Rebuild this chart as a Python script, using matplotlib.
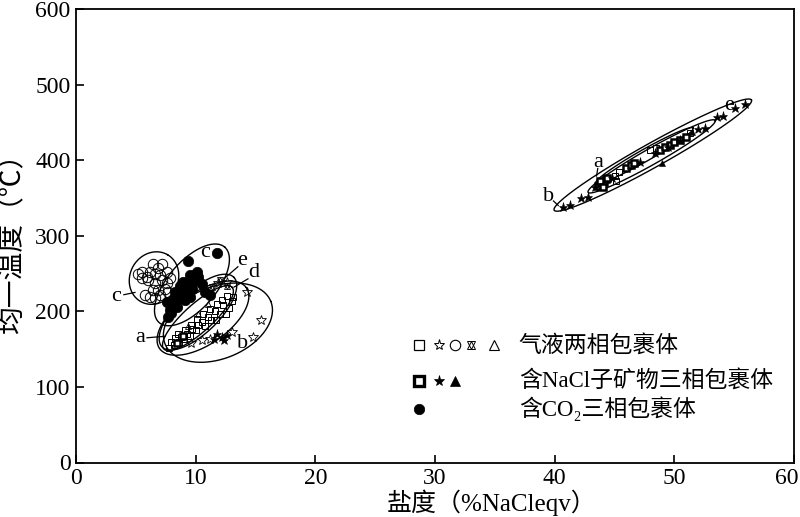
import numpy as np
import matplotlib
matplotlib.use("Agg")
import matplotlib.pyplot as plt
from matplotlib.transforms import ScaledTranslation

FONTS = ["Liberation Serif", "Noto Sans CJK SC", "DejaVu Sans"]
plt.rcParams["font.family"] = FONTS

# ---- data: (salinity wt% NaCleqv, homogenization T in C) ----
# vapour-liquid inclusions
vl_sq_x = [7.8, 7.9, 8.2, 8.3, 8.6, 8.5, 8.8, 9.0, 9.1, 9.3, 9.5, 9.6, 9.7, 10.0, 10.1, 10.2,
           10.5, 10.6, 10.8, 11.0, 11.2, 11.3, 11.6, 11.8, 12.0, 12.3, 12.6, 13.1, 12.8, 12.2,
           13.0, 12.5, 11.7, 45.0, 45.4, 45.1, 48.0, 48.5, 51.3]
vl_sq_y = [152, 160, 156, 165, 160, 170, 166, 163, 175, 170, 168, 182, 176, 175, 190, 182,
           186, 196, 180, 192, 203, 188, 200, 210, 196, 208, 220, 219, 205, 215,
           214, 196, 188, 379, 384, 373, 413, 416, 436]
vl_star_x = [14.3, 15.5, 14.8, 12.6, 11.9, 10.5, 11.2, 9.6, 13.0]
vl_star_y = [226, 188, 166, 239, 237, 162, 164, 158, 172]
vl_circ_x = [6.46, 7.16, 6.88, 6.18, 5.49, 5.20, 6.60, 7.02, 7.58, 5.49, 6.04, 6.60, 7.16,
             7.58, 7.85, 6.46, 6.88, 7.44, 7.71, 5.76, 6.18, 7.02, 6.60, 5.91]
vl_circ_y = [263, 263, 257, 252, 252, 250, 250, 248, 252, 244, 241, 237, 241,
             237, 244, 228, 228, 230, 226, 222, 219, 222, 217, 246]
vl_hex_x = [12.0, 12.6, 11.4]
vl_hex_y = [242, 233, 232]
vl_tri_x = [10.2, 11.0, 9.4]
vl_tri_y = [196, 210, 180]

# NaCl daughter-mineral bearing three-phase inclusions
na_sq_x = [8.4, 8.9, 43.6, 43.9, 44.1, 44.3, 43.8, 44.4, 44.0, 46.0, 46.4, 46.6,
           48.8, 49.2, 49.6, 50.0, 50.5, 51.0]
na_sq_y = [158, 168, 366, 370, 371, 375, 372, 376, 365, 390, 394, 396,
           413, 417, 420, 424, 427, 431]
na_star_x = [11.8, 12.2, 12.6, 12.4, 11.5, 40.7, 41.3, 42.2, 42.8, 43.4, 48.4, 52.0, 52.6,
             53.6, 54.1, 55.1, 55.9, 49.5, 47.1, 44.8, 50.5]
na_star_y = [170, 166, 169, 162, 164, 338, 341, 350, 351, 364, 409, 441, 442,
             457, 459, 469, 474, 417, 397, 376, 427]
na_tri_x = [49.0, 51.5]
na_tri_y = [396, 437]

# CO2-bearing three-phase inclusions
co2_x = [9.38, 10.08, 10.22, 9.52, 9.80, 8.96, 8.69, 9.25, 8.83, 8.27, 8.55, 8.00, 7.58,
         8.13, 7.85, 7.71, 10.78, 11.19, 11.75, 9.52, 9.11, 10.5, 9.7, 8.4, 7.9]
co2_y = [266, 252, 246, 248, 239, 239, 233, 233, 226, 226, 219, 215, 213,
         208, 202, 193, 226, 222, 277, 219, 215, 236, 229, 206, 198]

# grouping ellipses: centre (data), semi-axes (px), tilt (deg, screen)
ell_cx = [6.52, 9.69, 10.19, 10.61, 10.19, 11.86, 48.2, 48.1, 47.5]
ell_cy = [244, 235, 199, 191, 191, 185, 406.7, 405, 406]
ell_a = [27, 50, 50, 53, 46, 57, 113, 73, 56]
ell_b = [24, 24, 21, 26, 14, 36, 12, 8, 6]
ell_ang = [60, 49, 44, 35, 42, 22, 29.2, 29.5, 29.5]

# group letters
lab_txt = ["a", "b", "c", "c", "e", "d", "b", "a", "e"]
lab_x = [5.35, 13.95, 3.34, 10.78, 13.87, 14.87, 39.5, 43.6, 54.55]
lab_y = [166, 158, 220, 278, 267, 251, 352, 397, 472]
# leader lines  (x0, y0, x1, y1)
lead = [(5.93, 165, 7.44, 167), (4.0, 222, 4.93, 225), (13.53, 259, 12.36, 243),
        (14.37, 243, 13.2, 232), (39.9, 346, 40.3, 340), (43.6, 389, 43.5, 379)]

W, H, DPI = 8.0, 5.17, 100
fig = plt.figure(figsize=(W, H), dpi=DPI)
pos = [76 / 800, 1 - 462.5 / 517, 718 / 800, 453.5 / 517]
ax = fig.add_axes(pos)
ax.set_xlim(0, 60)
ax.set_ylim(0, 600)

sx = W * DPI * pos[2] / 60.0
sy = H * DPI * pos[3] / 600.0


def ring(cx, cy, a, b, ang):
    # ellipse shaped in screen pixels, mapped back into data units
    t = np.linspace(0, 2 * np.pi, 240)
    th = np.radians(ang)
    u = a * np.cos(t)
    v = b * np.sin(t)
    px = u * np.cos(th) - v * np.sin(th)
    py = u * np.sin(th) + v * np.cos(th)
    ax.plot(cx + px / sx, cy + py / sy, color="k", lw=1.0, zorder=2)


for i in range(len(ell_cx)):
    ring(ell_cx[i], ell_cy[i], ell_a[i], ell_b[i], ell_ang[i])

k = dict(ls="none", color="k", zorder=3)
ax.plot(vl_circ_x, vl_circ_y, marker="o", ms=7.5, mfc="none", mew=0.7, **k)
ax.plot(co2_x, co2_y, marker="o", ms=7.5, mfc="k", mew=0.5, **k)
ax.plot(vl_sq_x, vl_sq_y, marker="s", ms=4.5, mfc="none", mew=0.7, **k)
ax.plot(vl_star_x, vl_star_y, marker="*", ms=7, mfc="none", mew=0.6, **k)
ax.plot(vl_hex_x, vl_hex_y, marker="^", ms=5, mfc="none", mew=0.6, **k)
ax.plot(vl_hex_x, vl_hex_y, marker="v", ms=5, mfc="none", mew=0.6, **k)
ax.plot(vl_tri_x, vl_tri_y, marker="^", ms=5, mfc="none", mew=0.6, **k)
ax.plot(na_sq_x, na_sq_y, marker="s", ms=5, mfc="white", mew=1.8, **k)
ax.plot(na_star_x, na_star_y, marker="*", ms=6.5, mfc="k", mew=0.4, **k)
ax.plot(na_tri_x, na_tri_y, marker="^", ms=5, mfc="k", mew=0.4, **k)

for s, x, y in zip(lab_txt, lab_x, lab_y):
    ax.text(x, y, s, fontsize=16, ha="center", va="center", zorder=4)
for x0, y0, x1, y1 in lead:
    ax.plot([x0, x1], [y0, y1], color="k", lw=0.9, zorder=4)

# hand-made key
ky = [155, 108, 71]
kx = [28.7, 30.3, 31.7, 33.0, 34.9]
kk = dict(ls="none", color="k", clip_on=False)
ax.plot(kx[0], ky[0], marker="s", ms=6.5, mfc="none", mew=0.9, **kk)
ax.plot(kx[1], ky[0], marker="*", ms=8, mfc="none", mew=0.7, **kk)
ax.plot(kx[2], ky[0], marker="o", ms=7.5, mfc="none", mew=0.8, **kk)
ax.plot(kx[3], ky[0], marker="^", ms=6, mfc="none", mew=0.7, **kk)
ax.plot(kx[3], ky[0], marker="v", ms=6, mfc="none", mew=0.7, **kk)
ax.plot(kx[4], ky[0], marker="^", ms=6.5, mfc="none", mew=0.8, **kk)
ax.plot(kx[0], ky[1], marker="s", ms=6.5, mfc="white", mew=2.4, **kk)
ax.plot(kx[1], ky[1], marker="*", ms=8, mfc="k", mew=0.5, **kk)
ax.plot(kx[2], ky[1], marker="^", ms=6.5, mfc="k", mew=0.5, **kk)
ax.plot(kx[0], ky[2], marker="o", ms=7.5, mfc="k", mew=0.5, **kk)
key_txt = ["气液两相包裹体", "含NaCl子矿物三相包裹体", "含CO₂三相包裹体"]
for s, y in zip(key_txt, ky):
    ax.text(37.0, y, s, fontsize=16.5, ha="left", va="center")

ax.set_xticks(range(0, 61, 10))
ax.set_yticks(range(0, 601, 100))
ax.tick_params(direction="in", length=6, width=1.2, labelsize=17, pad=4)
for sp in ax.spines.values():
    sp.set_linewidth(1.3)

# last x tick label sits a bit left of its tick in the original
fig.canvas.draw()
last = ax.get_xticklabels()[-1]
last.set_transform(last.get_transform() + ScaledTranslation(-7 / DPI, 0, fig.dpi_scale_trans))

fig.text(492 / 800, 1 - 503 / 517, "盐度（%NaCleqv）", fontsize=18, ha="center", va="center")
fig.text(13 / 800, 1 - 236 / 517, "均一温度（℃）", fontsize=20, ha="center", va="center",
         rotation=90)

fig.savefig("out.png", dpi=DPI)
